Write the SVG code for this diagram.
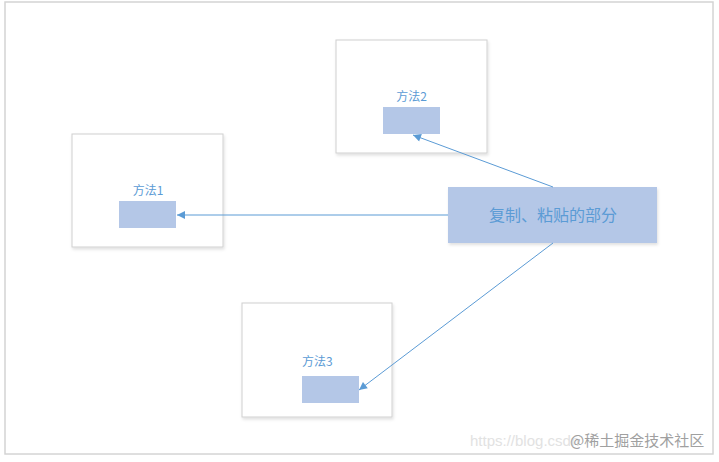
<svg xmlns="http://www.w3.org/2000/svg" width="719" height="462" viewBox="0 0 719 462">
<defs>
<style>
.frame{fill:#fff;stroke:#d0d0d0;stroke-width:1}
.outer{fill:#fff;stroke:#d4d4d4;stroke-width:1.5}
.inner{fill:#b4c7e7}
.lbl{font-family:"Noto Sans CJK SC","Liberation Sans",sans-serif;font-size:12px;fill:#5b9bd5}
.main{font-family:"Noto Sans CJK SC","Liberation Sans",sans-serif;font-size:16px;fill:#5b9bd5}
.conn{stroke:#5b9bd5;stroke-width:1;fill:none}
.wm{font-family:"Noto Sans CJK SC","Liberation Sans",sans-serif;font-size:15px;fill:#a0a0a0}
</style>
<marker id="ah" viewBox="0 0 10 10" refX="10" refY="5" markerWidth="10" markerHeight="8" markerUnits="userSpaceOnUse" orient="auto">
<path d="M0,0 L10,5 L0,10 z" fill="#5b9bd5"/>
</marker>
<filter id="sh" x="-10%" y="-10%" width="120%" height="130%">
<feDropShadow dx="1" dy="2" stdDeviation="1.5" flood-color="#000" flood-opacity="0.12"/>
</filter>
</defs>
<rect class="outer" x="5" y="2" width="708" height="452"/>
<g id="node-m2">
<rect class="frame" x="336" y="40" width="151" height="113" filter="url(#sh)"/>
<rect class="inner" x="383" y="107" width="57" height="27"/>
<text class="lbl" x="411.5" y="101" text-anchor="middle">方法2</text>
</g>
<g id="node-m1">
<rect class="frame" x="72" y="134" width="151" height="113" filter="url(#sh)"/>
<rect class="inner" x="119" y="201" width="57" height="27"/>
<text class="lbl" x="148" y="195" text-anchor="middle">方法1</text>
</g>
<g id="node-m3">
<rect class="frame" x="242" y="303" width="150" height="114" filter="url(#sh)"/>
<rect class="inner" x="302" y="376" width="57" height="27"/>
<text class="lbl" x="302" y="366">方法3</text>
</g>
<g id="node-main">
<rect x="448" y="187" width="209" height="56" fill="#b4c7e7" filter="url(#sh)"/>
<text class="main" x="553" y="221" text-anchor="middle">复制、粘贴的部分</text>
</g>
<g id="connectors">
<line class="conn" x1="448" y1="215" x2="177" y2="215" marker-end="url(#ah)"/>
<line class="conn" x1="553" y1="187" x2="413" y2="135" marker-end="url(#ah)"/>
<line class="conn" x1="553" y1="243" x2="359" y2="390" marker-end="url(#ah)"/>
</g>
<g id="watermark">
<text x="470" y="446" font-family="Liberation Sans,sans-serif" font-size="15" fill="#e2e2e2">https://blog.csdn</text>
<text class="wm" x="570" y="446">@稀土掘金技术社区</text>
</g>
</svg>
